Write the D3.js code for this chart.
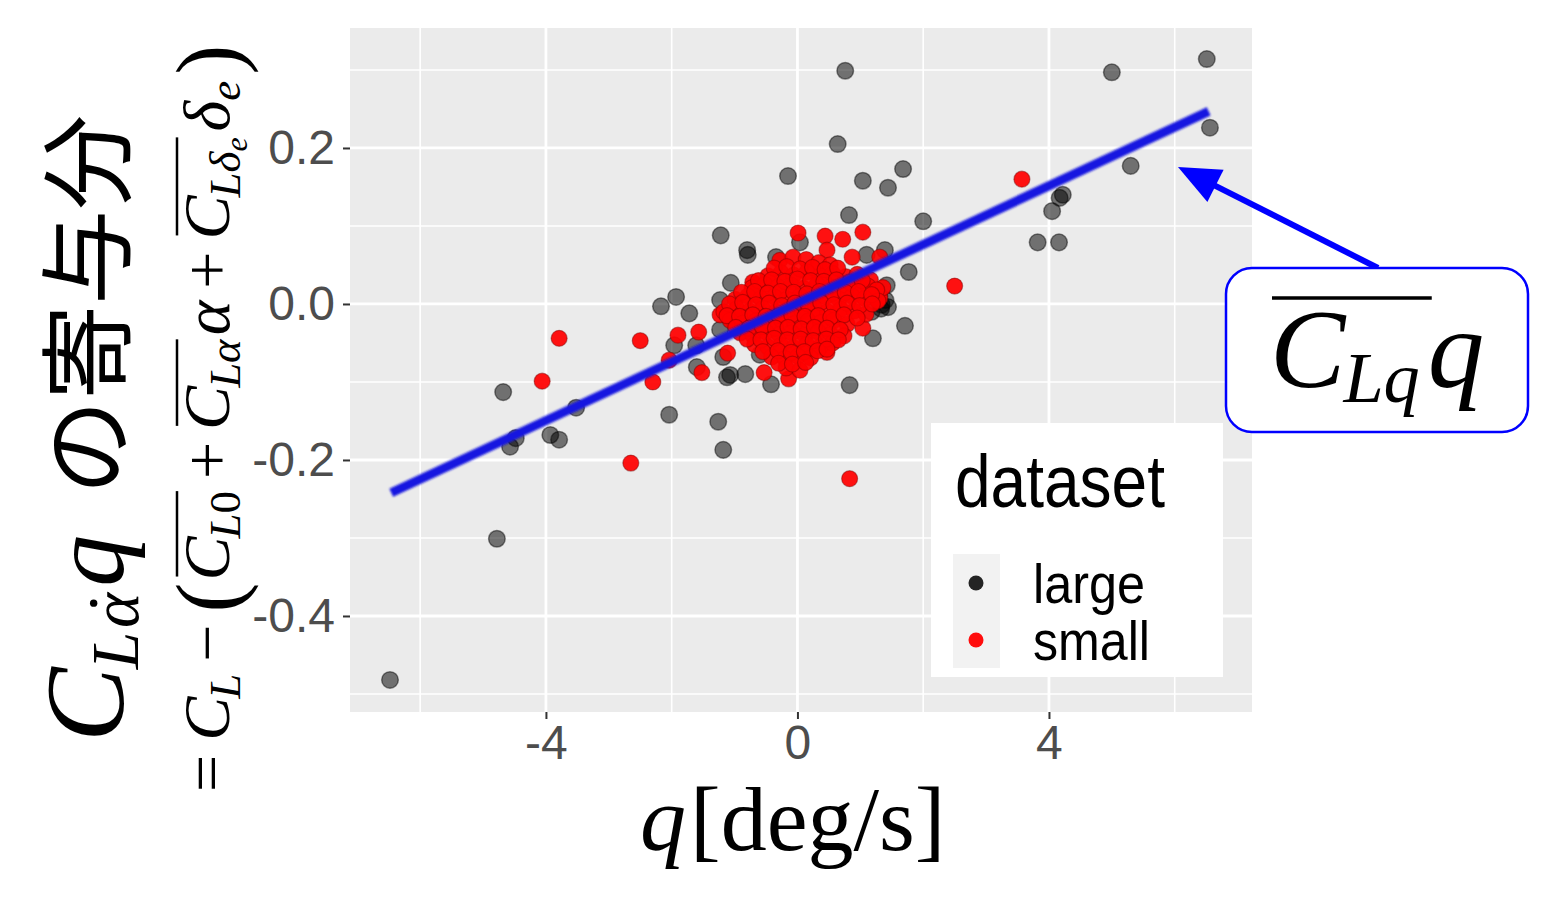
<!DOCTYPE html>
<html>
<head>
<meta charset="utf-8">
<script src="https://cdn.jsdelivr.net/npm/d3@7"></script>
<style>
  body { margin: 0; background: #fff; }
  svg { display: block; }
</style>
</head>
<body>
<svg id="chart" width="1560" height="897"></svg>
<script>
// ---- data ----
const xMajor = [-4, 0, 4];
const xMinor = [-6, -2, 2, 6];
const yMajor = [-0.4, -0.2, 0.0, 0.2];
const yMinor = [-0.5, -0.3, -0.1, 0.1, 0.3];

const seriesNames = ["large", "small"];
const seriesColors = ["black", "red"];

// dataset = large : [q, contribution]
const largePts = [
  [-6.48, -0.482], [-4.78, -0.301], [-4.68, -0.113], [-4.57, -0.183], [-4.48, -0.172],
  [-3.93, -0.168], [-3.79, -0.174], [-3.52, -0.133], [-2.17, -0.003], [-1.93, 0.009],
  [-1.72, -0.012], [-1.96, -0.053], [-1.61, -0.053], [-2.04, -0.142], [-1.60, -0.081],
  [-1.26, -0.151], [-1.18, -0.187], [-1.12, -0.094], [-1.07, -0.091], [-0.83, -0.090],
  [-0.42, -0.103], [-1.18, -0.068], [-1.23, -0.033], [-1.23, 0.005], [-1.06, 0.027],
  [-1.22, 0.088], [-0.80, 0.069], [-0.79, 0.063], [-0.34, 0.060], [0.04, 0.079],
  [-0.15, 0.164], [0.76, 0.299], [0.64, 0.205], [0.82, 0.114], [1.04, 0.158],
  [1.44, 0.149], [1.68, 0.173], [2.00, 0.106], [1.39, 0.069], [1.77, 0.041],
  [1.42, 0.024], [1.44, -0.004], [1.34, -0.001], [1.71, -0.028], [1.20, -0.044],
  [0.83, -0.104], [6.51, 0.314], [5.00, 0.297], [6.56, 0.226], [5.30, 0.177],
  [4.22, 0.140], [4.17, 0.136], [4.05, 0.119], [3.82, 0.079], [4.16, 0.079],
  [1.10, 0.063], [1.18, -0.010], [1.26, 0.009], [-0.60, -0.065], [1.30, 0.010],
  [1.40, 0.005], [-0.96, -0.014], [-0.64, 0.012], [-1.02, -0.020], [1.33, -0.006]
];

// dataset = small : [q, contribution]
const smallPts = [
  [-4.06, -0.099], [-3.79, -0.044], [-2.65, -0.204], [-2.50, -0.047], [-2.30, -0.100],
  [-2.04, -0.072], [-1.90, -0.040], [-1.57, -0.036], [-1.52, -0.088], [-1.23, -0.014],
  [-1.11, -0.063], [-0.71, 0.028], [-0.71, 0.018], [-0.53, -0.088], [-0.14, -0.096],
  [0.47, -0.062], [0.83, -0.224], [0.01, 0.091], [0.44, 0.087], [0.47, 0.069],
  [0.72, 0.083], [1.04, 0.092], [1.31, 0.060], [1.04, -0.031], [3.57, 0.160],
  [2.50, 0.023], [0.87, 0.060], [1.31, 0.008], [1.36, 0.021], [1.16, 0.031],
  // dense central cluster
  [-0.28, 0.056], [-0.07, 0.060], [0.14, 0.057], [0.34, 0.053], [0.52, 0.050],
  [-0.47, 0.036], [-0.26, 0.040], [-0.06, 0.037], [0.15, 0.041], [0.36, 0.036],
  [0.56, 0.039], [0.77, 0.035], [0.95, 0.038],
  [-0.72, 0.021], [-0.52, 0.025], [-0.31, 0.022], [-0.10, 0.024], [0.10, 0.020],
  [0.31, 0.025], [0.52, 0.022], [0.72, 0.024], [0.93, 0.021], [1.12, 0.023], [1.26, 0.018],
  [-0.99, 0.006], [-0.79, 0.010], [-0.58, 0.007], [-0.37, 0.009], [-0.17, 0.006],
  [0.04, 0.010], [0.25, 0.007], [0.45, 0.009], [0.66, 0.006], [0.87, 0.010],
  [1.07, 0.007], [1.28, 0.004],
  [-1.17, -0.010], [-0.96, -0.006], [-0.76, -0.009], [-0.55, -0.006], [-0.34, -0.010],
  [-0.14, -0.007], [0.07, -0.009], [0.28, -0.006], [0.48, -0.010], [0.69, -0.007],
  [0.90, -0.009], [1.09, -0.013],
  [-1.07, -0.021], [-0.87, -0.025], [-0.66, -0.022], [-0.45, -0.024], [-0.25, -0.021],
  [-0.04, -0.025], [0.17, -0.022], [0.37, -0.024], [0.58, -0.021], [0.79, -0.026],
  [-0.91, -0.037], [-0.71, -0.040], [-0.50, -0.036], [-0.29, -0.039], [-0.09, -0.037],
  [0.12, -0.040], [0.33, -0.036], [0.53, -0.039], [0.74, -0.041],
  [-0.68, -0.052], [-0.47, -0.055], [-0.26, -0.053], [-0.06, -0.056], [0.15, -0.052],
  [0.36, -0.055], [0.56, -0.050],
  [-0.41, -0.068], [-0.20, -0.070], [0.01, -0.067], [0.21, -0.069],
  [-0.18, -0.082], [0.04, -0.085],
  // cluster, in-between points
  [-0.37, 0.046], [-0.17, 0.048], [0.04, 0.045], [0.24, 0.047], [0.44, 0.044], [0.64, 0.046],
  [-0.62, 0.030], [-0.41, 0.031], [-0.20, 0.029], [0.00, 0.032], [0.21, 0.030],
  [0.42, 0.029], [0.62, 0.031], [0.83, 0.028], [1.03, 0.030],
  [-0.89, 0.015], [-0.68, 0.016], [-0.47, 0.014], [-0.27, 0.016], [-0.06, 0.015],
  [0.15, 0.013], [0.35, 0.016], [0.56, 0.014], [0.76, 0.015], [0.97, 0.016], [1.18, 0.012],
  [-1.08, 0.000], [-0.87, 0.002], [-0.66, -0.001], [-0.45, 0.001], [-0.25, -0.002],
  [-0.04, 0.001], [0.17, 0.000], [0.37, 0.002], [0.58, -0.001], [0.79, 0.001],
  [0.99, -0.002], [1.19, 0.000],
  [-1.12, -0.015], [-0.92, -0.016], [-0.71, -0.014], [-0.50, -0.016], [-0.29, -0.015],
  [-0.09, -0.014], [0.12, -0.016], [0.33, -0.015], [0.53, -0.017], [0.74, -0.014], [0.95, -0.018],
  [-0.98, -0.030], [-0.77, -0.031], [-0.56, -0.029], [-0.35, -0.031], [-0.15, -0.030],
  [0.06, -0.032], [0.27, -0.030], [0.47, -0.031], [0.68, -0.033],
  [-0.80, -0.045], [-0.58, -0.046], [-0.37, -0.044], [-0.16, -0.046], [0.05, -0.045],
  [0.25, -0.047], [0.46, -0.045], [0.65, -0.046],
  [-0.55, -0.061], [-0.31, -0.060], [-0.10, -0.062], [0.11, -0.061], [0.32, -0.060], [0.47, -0.058],
  [-0.30, -0.076], [-0.08, -0.077], [0.13, -0.075]
];

// fitted line  CLq * q
const fitQ = [-6.46, 6.54];
const fitC = [-0.242, 0.247];

// ---- layout ----
const panel = { left: 350, right: 1252, top: 28, bottom: 712 };
const serif = "'Liberation Serif', 'DejaVu Serif', serif";
const sans = "'Liberation Sans', Arial, 'DejaVu Sans', sans-serif";
const cjk = "'Noto Sans CJK JP', 'Noto Sans CJK SC', sans-serif";

const svg = d3.select("#chart");

const defs = svg.append("defs");
defs.append("filter").attr("id", "soft")
  .attr("x", "-5%").attr("y", "-20%").attr("width", "110%").attr("height", "140%")
  .append("feGaussianBlur").attr("stdDeviation", 1.1);

const x = d3.scaleLinear().domain([-7.116, 7.229]).range([panel.left, panel.right]);
const y = d3.scaleLinear().domain([-0.5231, 0.3538]).range([panel.bottom, panel.top]);

// panel background
svg.append("rect")
  .attr("x", panel.left).attr("y", panel.top)
  .attr("width", panel.right - panel.left).attr("height", panel.bottom - panel.top)
  .attr("fill", "#EBEBEB");

// grid
const grid = svg.append("g");
grid.selectAll(".vminor").data(xMinor).enter().append("line")
  .attr("x1", d => x(d)).attr("x2", d => x(d))
  .attr("y1", panel.top).attr("y2", panel.bottom)
  .attr("stroke", "#fff").attr("stroke-width", 1.6);
grid.selectAll(".hminor").data(yMinor).enter().append("line")
  .attr("y1", d => y(d)).attr("y2", d => y(d))
  .attr("x1", panel.left).attr("x2", panel.right)
  .attr("stroke", "#fff").attr("stroke-width", 1.6);
grid.selectAll(".vmajor").data(xMajor).enter().append("line")
  .attr("x1", d => x(d)).attr("x2", d => x(d))
  .attr("y1", panel.top).attr("y2", panel.bottom)
  .attr("stroke", "#fff").attr("stroke-width", 2.8);
grid.selectAll(".hmajor").data(yMajor).enter().append("line")
  .attr("y1", d => y(d)).attr("y2", d => y(d))
  .attr("x1", panel.left).attr("x2", panel.right)
  .attr("stroke", "#fff").attr("stroke-width", 2.8);

// points
svg.append("g").selectAll("circle").data(largePts).enter().append("circle")
  .attr("cx", d => x(d[0])).attr("cy", d => y(d[1])).attr("r", 8.3)
  .attr("fill", seriesColors[0]).attr("fill-opacity", 0.52)
  .attr("stroke", "#000").attr("stroke-opacity", 0.45).attr("stroke-width", 1.5);

svg.append("g").selectAll("circle").data(smallPts).enter().append("circle")
  .attr("cx", d => x(d[0])).attr("cy", d => y(d[1])).attr("r", 8)
  .attr("fill", seriesColors[1]).attr("fill-opacity", 0.93)
  .attr("stroke", "#7a0000").attr("stroke-opacity", 0.45).attr("stroke-width", 1.2);

// regression line
svg.append("line")
  .attr("x1", x(fitQ[0])).attr("y1", y(fitC[0]))
  .attr("x2", x(fitQ[1])).attr("y2", y(fitC[1]))
  .attr("stroke", "#1616e0").attr("stroke-width", 9)
  .attr("filter", "url(#soft)");

// axes
const yAxis = d3.axisLeft(y).tickValues(yMajor)
  .tickFormat(d => d.toFixed(1)).tickSize(7).tickPadding(8);
const gy = svg.append("g").attr("transform", `translate(${panel.left},0)`).call(yAxis);

const xAxis = d3.axisBottom(x).tickValues(xMajor)
  .tickFormat(d => String(d)).tickSize(7).tickPadding(6);
const gx = svg.append("g").attr("transform", `translate(0,${panel.bottom})`).call(xAxis);

[gx, gy].forEach(g => {
  g.select(".domain").remove();
  g.selectAll(".tick line").attr("stroke", "#333").attr("stroke-width", 2);
  g.selectAll(".tick text")
    .attr("fill", "#4D4D4D").attr("font-family", sans).attr("font-size", 48);
});

// small math typesetter: lays pieces left to right, draws overlines and dots
function mathLabel(parent, pieces, opt) {
  let cx = 0;
  let barStart = 0;
  const bars = [];
  pieces.forEach(p => {
    cx += p.dx || 0;
    const size = p.size || (p.sub ? opt.fs * opt.subScale : opt.fs);
    const yy = p.shift != null ? p.shift : (p.sub ? opt.subShift : 0);
    const t = parent.append("text")
      .attr("x", cx).attr("y", yy)
      .attr("font-family", p.cjk ? cjk : serif)
      .attr("font-style", p.it ? "italic" : "normal")
      .attr("font-size", size)
      .attr("fill", "#000")
      .text(p.t);
    if (p.barStart) barStart = cx;
    const w = t.node().getComputedTextLength();
    if (p.dot) {
      parent.append("circle")
        .attr("cx", cx + w * 0.55 + size * 0.08).attr("cy", yy - size * 0.66)
        .attr("r", size * 0.055).attr("fill", "#000");
    }
    cx += w;
    if (p.barEnd) bars.push([barStart, cx]);
  });
  bars.forEach(b => {
    parent.append("line")
      .attr("x1", b[0] + (opt.barPad0 || 0)).attr("x2", b[1] + (opt.barPad1 || 0))
      .attr("y1", opt.barY).attr("y2", opt.barY)
      .attr("stroke", "#000").attr("stroke-width", opt.barW);
  });
  return cx;
}

// y title, line 1
const yt1 = svg.append("g").attr("transform", "translate(123,742) rotate(-90)");
mathLabel(yt1, [
  { t: "C", it: 1 },
  { t: "L", it: 1, sub: 1, dx: -2 },
  { t: "\u03B1", it: 1, sub: 1, dx: 4, dot: 1 },
  { t: "q", it: 1, dx: 6, size: 104 },
  { t: "の寄与分", cjk: 1, size: 95, dx: 40 }
], { fs: 112, subScale: 0.6, subShift: 15 });

// y title, line 2
const yt2 = svg.append("g").attr("transform", "translate(229,792) rotate(-90)");
mathLabel(yt2, [
  { t: "=" },
  { t: "C", it: 1, dx: 14 },
  { t: "L", it: 1, sub: 1, dx: -2 },
  { t: "\u2212", dx: 12 },
  { t: "(", dx: 12, size: 90, shift: 10 },
  { t: "C", it: 1, dx: 2, barStart: 1 },
  { t: "L", it: 1, sub: 1, dx: -2 },
  { t: "0", sub: 1, barEnd: 1 },
  { t: "+", dx: 12 },
  { t: "C", it: 1, dx: 12, barStart: 1 },
  { t: "L\u03B1", it: 1, sub: 1, dx: -2, barEnd: 1 },
  { t: "\u03B1", it: 1, dx: 4 },
  { t: "+", dx: 12 },
  { t: "C", it: 1, dx: 12, barStart: 1 },
  { t: "L\u03B4", it: 1, sub: 1, dx: -2 },
  { t: "e", it: 1, size: 32, shift: 18, barEnd: 1 },
  { t: "\u03B4", it: 1, dx: 6 },
  { t: "e", it: 1, sub: 1 },
  { t: ")", dx: 6, size: 90, shift: 10 }
], { fs: 66, subScale: 0.68, subShift: 11, barY: -52, barW: 2.5, barPad0: 4 });

// x title
const xt = svg.append("g").attr("transform", "translate(640,850)");
mathLabel(xt, [
  { t: "q", it: 1 },
  { t: "[deg/s]", dx: 4 }
], { fs: 92 });

// legend
const lg = svg.append("g");
lg.append("rect").attr("x", 931).attr("y", 423).attr("width", 292).attr("height", 254)
  .attr("fill", "#fff");
lg.append("text").attr("x", 955).attr("y", 507)
  .attr("font-family", sans).attr("font-size", 74)
  .attr("textLength", 210).attr("lengthAdjust", "spacingAndGlyphs")
  .text("dataset");
lg.append("rect").attr("x", 953).attr("y", 554).attr("width", 47).attr("height", 114)
  .attr("fill", "#F2F2F2");
const keyY = [583, 640];
const keyW = [112, 117];
seriesNames.forEach((name, i) => {
  lg.append("circle").attr("cx", 976).attr("cy", keyY[i]).attr("r", 7.5)
    .attr("fill", seriesColors[i]).attr("fill-opacity", i === 0 ? 0.85 : 0.95);
  lg.append("text").attr("x", 1033).attr("y", keyY[i] + 20)
    .attr("font-family", sans).attr("font-size", 55)
    .attr("textLength", keyW[i]).attr("lengthAdjust", "spacingAndGlyphs")
    .text(name);
});

// annotation arrow
const tail = [1378, 268], tip = [1178, 167];
const ux = (tip[0] - tail[0]), uy = (tip[1] - tail[1]);
const len = Math.hypot(ux, uy);
const u = [ux / len, uy / len];
const base = [tip[0] - 42 * u[0], tip[1] - 42 * u[1]];
svg.append("line")
  .attr("x1", tail[0]).attr("y1", tail[1])
  .attr("x2", base[0] + 4 * u[0]).attr("y2", base[1] + 4 * u[1])
  .attr("stroke", "#0000FF").attr("stroke-width", 6);
svg.append("polygon")
  .attr("points", [
    tip,
    [base[0] - 18 * u[1], base[1] + 18 * u[0]],
    [base[0] + 18 * u[1], base[1] - 18 * u[0]]
  ].map(p => p.join(",")).join(" "))
  .attr("fill", "#0000FF");

// callout box
svg.append("rect").attr("x", 1226).attr("y", 268).attr("width", 302).attr("height", 164)
  .attr("rx", 26).attr("fill", "#fff").attr("stroke", "#0000FF").attr("stroke-width", 2.5);
const cl = svg.append("g").attr("transform", "translate(1270,387)");
mathLabel(cl, [
  { t: "C", it: 1, barStart: 1 },
  { t: "Lq", it: 1, sub: 1, dx: -2, barEnd: 1 },
  { t: "q", it: 1, dx: 8 }
], { fs: 113, subScale: 0.64, subShift: 15, barY: -89, barW: 3.5, barPad0: 2, barPad1: 12 });
</script>
</body>
</html>
